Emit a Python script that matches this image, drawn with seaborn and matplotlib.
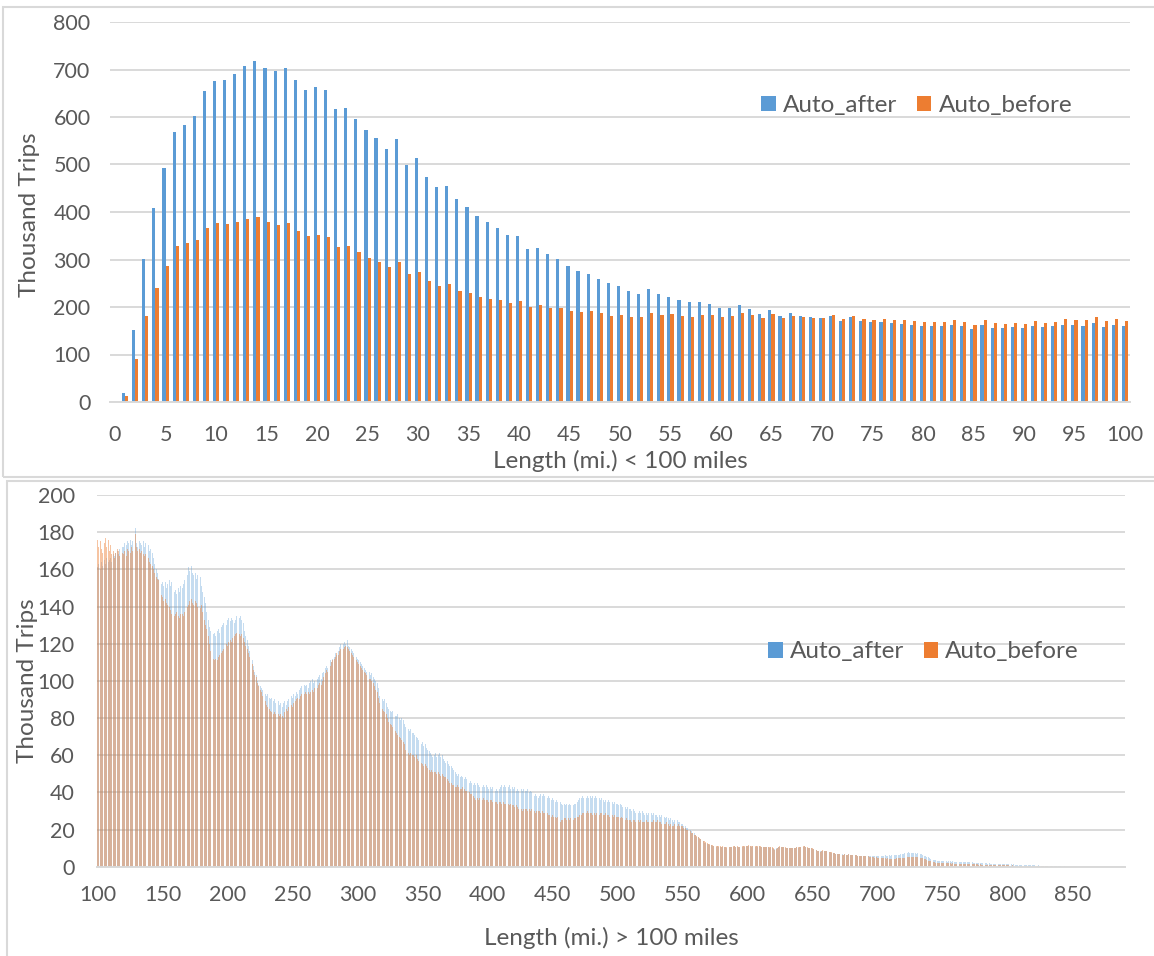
import numpy as np
import pandas as pd
import matplotlib
matplotlib.use("Agg")
import matplotlib.pyplot as plt
from matplotlib.patches import Patch, Rectangle
import seaborn as sns

# ---------------- data: trips under 100 miles (thousand trips) ----------------
short_len = list(range(1, 101))
short_after = [
    19, 151, 302, 408, 492, 569, 583, 602, 654, 675,
    678, 691, 708, 718, 704, 696, 703, 678, 657, 664,
    657, 616, 620, 596, 573, 556, 532, 553, 499, 513,
    473, 452, 454, 427, 411, 392, 380, 366, 352, 349,
    322, 324, 312, 302, 286, 275, 270, 260, 250, 245,
    234, 227, 237, 227, 221, 215, 211, 211, 206, 197,
    197, 204, 196, 185, 194, 182, 187, 181, 179, 177,
    181, 171, 178, 170, 168, 168, 166, 164, 162, 161,
    160, 160, 163, 159, 154, 163, 156, 156, 158, 156,
    161, 158, 159, 163, 162, 161, 167, 158, 163, 160,
]
short_before = [
    12, 91, 181, 240, 286, 328, 334, 341, 367, 376,
    375, 379, 385, 389, 379, 372, 376, 360, 349, 351,
    348, 327, 328, 315, 304, 295, 284, 294, 269, 274,
    255, 245, 248, 234, 229, 222, 217, 214, 208, 212,
    200, 204, 198, 198, 191, 189, 191, 187, 181, 184,
    180, 180, 188, 184, 186, 181, 180, 184, 184, 180,
    181, 188, 183, 177, 186, 176, 182, 178, 177, 177,
    183, 175, 182, 175, 173, 174, 173, 172, 171, 169,
    168, 169, 173, 168, 163, 173, 166, 165, 167, 165,
    171, 167, 169, 175, 173, 172, 179, 170, 175, 170,
]

# ---------------- data: trips over 100 miles, one value per mile 100..849 ----------------
long_after = [
    161, 163, 160, 164, 162, 165, 163, 166, 164, 165,
    166, 164, 168, 167, 169, 170, 168, 171, 170, 172,
    172, 174, 173, 175, 174, 176, 173, 175, 176, 182,
    174, 172, 175, 174, 173, 175, 172, 174, 171, 173,
    170, 171, 169, 166, 163, 160, 158, 155, 154, 152,
    153, 151, 153, 150, 152, 154, 151, 153, 150, 148,
    149, 147, 150, 148, 151, 150, 152, 154, 153, 157,
    161, 159, 162, 158, 157, 158, 155, 157, 154, 156,
    151, 148, 145, 142, 137, 133, 129, 127, 126, 125,
    126, 124, 127, 128, 126, 129, 130, 131, 132, 130,
    133, 134, 132, 134, 133, 131, 133, 135, 132, 134,
    135, 133, 131, 127, 124, 122, 119, 116, 114, 111,
    108, 105, 103, 100, 98, 97, 96, 95, 94, 93,
    92, 93, 91, 90, 91, 89, 90, 88, 90, 89,
    87, 88, 86, 88, 89, 87, 89, 90, 91, 92,
    91, 93, 92, 94, 93, 95, 96, 97, 95, 98,
    97, 98, 96, 99, 100, 101, 99, 100, 98, 101,
    102, 103, 101, 104, 105, 107, 108, 107, 109, 111,
    110, 112, 113, 115, 114, 116, 118, 120, 121, 120,
    121, 120, 122, 119, 118, 117, 116, 115, 114, 113,
    112, 111, 110, 109, 108, 107, 106, 105, 104, 105,
    103, 104, 102, 101, 100, 99, 96, 92, 91, 90,
    89, 90, 88, 86, 85, 84, 83, 84, 82, 81,
    81, 82, 80, 79, 80, 79, 77, 75, 76, 74,
    73, 74, 72, 72, 71, 70, 69, 68, 67, 66,
    67, 65, 66, 64, 63, 62, 61, 60, 59, 60,
    61, 59, 60, 61, 59, 60, 58, 57, 56, 57,
    55, 54, 54, 53, 52, 51, 50, 49, 50, 48,
    49, 48, 47, 48, 47, 46, 45, 46, 45, 44,
    45, 44, 45, 44, 43, 44, 43, 44, 43, 44,
    43, 42, 43, 42, 43, 42, 41, 42, 41, 42,
    43, 44, 43, 44, 43, 44, 43, 44, 42, 43,
    42, 43, 41, 42, 41, 42, 42, 41, 42, 41,
    41, 42, 40, 41, 40, 39, 38, 39, 38, 37,
    38, 39, 38, 39, 38, 39, 37, 38, 37, 36,
    37, 36, 35, 36, 35, 34, 35, 34, 33, 34,
    33, 34, 33, 34, 33, 34, 33, 34, 34, 35,
    36, 37, 37, 38, 37, 38, 37, 38, 37, 38,
    37, 38, 37, 38, 37, 36, 37, 36, 37, 36,
    35, 36, 35, 36, 35, 34, 35, 34, 35, 34,
    34, 33, 34, 33, 32, 33, 32, 31, 32, 31,
    31, 30, 31, 30, 29, 30, 29, 30, 29, 30,
    29, 28, 29, 28, 29, 28, 29, 28, 29, 28,
    28, 27, 28, 27, 28, 27, 27, 26, 27, 26,
    25, 26, 25, 24, 25, 24, 25, 24, 24, 23,
    23, 22, 22, 21, 21, 20, 20, 19, 18, 18,
    17, 16, 16, 15, 15, 14, 14, 13, 13, 12,
    12.3, 11.9, 11.6, 11.4, 11.2, 11.0, 10.8, 10.9, 10.6, 10.7,
    10.5, 10.8, 10.4, 10.6, 10.3, 10.5, 10.4, 10.7, 10.6, 10.8,
    10.9, 10.6, 10.8, 10.5, 10.4, 10.7, 10.8, 10.9, 10.7, 11.0,
    11.2, 10.9, 11.1, 10.8, 11.0, 10.9, 10.7, 11.0, 10.8, 10.9,
    10.8, 10.6, 10.5, 10.7, 10.4, 10.6, 10.5, 10.3, 10.4, 10.2,
    9.6, 9.3, 9.8, 10.2, 10.5, 10.8, 10.6, 10.4, 10.5, 10.3,
    10.1, 10.0, 9.9, 10.1, 9.8, 9.9, 10.0, 10.2, 10.4, 10.3,
    10.5, 10.6, 10.8, 10.7, 10.9, 10.5, 10.2, 10.0, 9.9, 9.8,
    9.6, 9.5, 9.3, 9.0, 8.6, 8.4, 8.2, 8.5, 8.7, 8.6,
    8.4, 8.3, 8.1, 8.0, 7.8, 7.6, 7.4, 7.3, 7.1, 7.0,
    6.9, 6.8, 6.7, 6.6, 6.5, 6.6, 6.4, 6.5, 6.6, 6.4,
    6.5, 6.3, 6.4, 6.5, 6.2, 6.0, 5.9, 6.0, 5.8, 5.9,
    5.8, 5.9, 5.7, 5.8, 5.6, 5.7, 5.8, 5.9, 5.7, 5.8,
    5.6, 5.7, 5.8, 5.9, 6.0, 5.9, 6.1, 6.0, 5.9, 6.1,
    6.0, 6.2, 6.1, 6.3, 6.2, 6.4, 6.5, 6.4, 6.6, 6.7,
    6.9, 7.2, 7.5, 7.3, 7.9, 7.6, 7.4, 7.2, 7.5, 7.3,
    7.1, 7.3, 7.0, 6.8, 6.6, 6.3, 5.9, 5.6, 5.4, 5.0,
    4.6, 4.3, 4.0, 3.8, 3.6, 3.5, 3.3, 3.2, 3.1, 3.0,
    2.9, 3.0, 2.8, 2.9, 2.7, 2.8, 2.9, 2.7, 2.8, 2.6,
    2.7, 2.6, 2.5, 2.6, 2.4, 2.5, 2.6, 2.4, 2.5, 2.3,
    2.4, 2.3, 2.2, 2.3, 2.2, 2.1, 2.2, 2.0, 2.1, 2.0,
    1.9, 2.0, 1.8, 1.9, 1.8, 1.7, 1.8, 1.7, 1.6, 1.7,
    1.6, 1.5, 1.6, 1.5, 1.4, 1.5, 1.4, 1.3, 1.4, 1.3,
    1.3, 1.2, 1.3, 1.2, 1.1, 1.2, 1.1, 1.1, 1.0, 1.1,
    1.0, 0.9, 1.0, 0.9, 0.9, 0.8, 0.9, 0.8, 0.8, 0.7,
    0.8, 0.7, 0.7, 0.6, 0.7, 0.6, 0.6, 0.5, 0.5, 0.5,
    0.4, 0.4, 0.4, 0.3, 0.4, 0.3, 0.3, 0.2, 0.3, 0.2,
    0.2, 0.2, 0.2, 0.1, 0.2, 0.1, 0.1, 0.1, 0.1, 0.1,
]
long_before = [
    176, 172, 175, 171, 169, 174, 177, 172, 176, 170,
    173, 168, 170, 166, 169, 171, 170, 167, 168, 169,
    168, 170, 167, 171, 170, 169, 172, 170, 175, 179,
    172, 170, 171, 169, 170, 168, 167, 168, 165, 166,
    164, 163, 162, 160, 158, 156, 155, 154, 150, 146,
    145, 143, 144, 142, 141, 140, 138, 136, 134, 135,
    136, 137, 135, 134, 136, 136, 135, 137, 138, 140,
    141, 143, 144, 142, 141, 143, 142, 140, 141, 139,
    141, 137, 133, 130, 128, 124, 120, 116, 113, 112,
    111, 112, 111, 113, 114, 115, 116, 117, 119, 120,
    119, 121, 122, 121, 123, 124, 125, 126, 124, 125,
    124, 125, 123, 121, 119, 117, 115, 113, 111, 109,
    106, 103, 102, 99, 97, 95, 94, 92, 90, 89,
    87, 86, 85, 84, 83, 82, 83, 82, 81, 82,
    81, 82, 81, 80, 83, 85, 84, 86, 85, 87,
    86, 88, 89, 90, 91, 90, 92, 93, 94, 93,
    94, 93, 94, 93, 94, 95, 94, 96, 97, 96,
    98, 99, 98, 100, 102, 104, 106, 105, 107, 108,
    110, 111, 112, 113, 115, 114, 116, 117, 118, 117,
    118, 119, 118, 117, 116, 115, 114, 113, 112, 111,
    110, 109, 108, 107, 106, 105, 104, 103, 102, 101,
    101, 100, 99, 97, 95, 94, 91, 88, 86, 85,
    84, 83, 82, 80, 78, 77, 76, 75, 74, 73,
    72, 71, 70, 69, 68, 67, 66, 63, 61, 61,
    60, 61, 60, 60, 59, 60, 58, 57, 57, 56,
    55, 54, 55, 54, 53, 52, 51, 52, 51, 51,
    51, 50, 51, 50, 49, 50, 49, 48, 48, 47,
    46, 45, 45, 44, 44, 43, 43, 44, 43, 42,
    42, 43, 42, 41, 41, 40, 40, 39, 39, 38,
    37, 36, 37, 36, 37, 37, 36, 37, 36, 36,
    36, 35, 36, 36, 35, 36, 35, 35, 34, 35,
    35, 34, 35, 34, 34, 33, 34, 33, 34, 33,
    33, 32, 33, 32, 31, 32, 31, 30, 31, 31,
    31, 30, 31, 30, 31, 30, 30, 29, 30, 30,
    30, 29, 30, 29, 29, 28, 29, 28, 28, 27,
    28, 27, 27, 26, 27, 25, 24, 25, 25, 26,
    26, 25, 26, 25, 26, 26, 25, 26, 26, 27,
    27, 28, 28, 29, 29, 30, 29, 30, 29, 29,
    29, 28, 29, 28, 29, 29, 28, 29, 29, 28,
    28, 29, 28, 28, 27, 28, 28, 27, 28, 27,
    27, 27, 26, 27, 26, 26, 25, 26, 25, 25,
    25, 24, 25, 25, 24, 25, 25, 24, 25, 24,
    24, 24, 25, 24, 24, 25, 24, 24, 25, 24,
    24, 25, 24, 24, 23, 24, 23, 23, 24, 23,
    22, 23, 22, 22, 23, 22, 22, 23, 22, 22,
    22, 21, 21, 20, 20, 19, 19, 18, 18, 17,
    17, 16.5, 16, 15.5, 15, 14.5, 14, 13.6, 13.2, 12.8,
    12.3, 12.0, 11.8, 11.5, 11.3, 11.2, 11.0, 11.1, 10.9, 11.0,
    10.8, 10.9, 10.6, 10.8, 10.5, 10.7, 10.6, 10.8, 10.7, 11.0,
    11.0, 10.8, 10.9, 10.7, 10.6, 10.8, 11.0, 11.1, 10.9, 11.2,
    11.3, 11.5, 11.4, 11.1, 11.2, 11.0, 10.9, 11.1, 11.0, 11.0,
    10.9, 10.8, 10.6, 10.8, 10.5, 10.7, 10.6, 10.5, 10.6, 10.4,
    9.8, 9.2, 9.7, 10.3, 10.7, 11.0, 10.8, 10.6, 10.7, 10.5,
    10.3, 10.2, 10.0, 10.2, 9.9, 10.0, 10.1, 10.3, 10.5, 10.4,
    10.6, 10.8, 11.0, 10.9, 11.1, 10.7, 10.4, 10.1, 10.0, 9.9,
    9.8, 9.7, 9.4, 9.0, 8.6, 8.3, 8.1, 8.6, 8.8, 8.7,
    8.5, 8.4, 8.3, 8.1, 7.9, 7.7, 7.5, 7.4, 7.1, 7.0,
    6.9, 6.8, 6.7, 6.5, 6.5, 6.6, 6.4, 6.5, 6.6, 6.4,
    6.5, 6.3, 6.4, 6.5, 6.2, 6.0, 5.9, 6.0, 5.8, 5.8,
    5.7, 5.6, 5.7, 5.5, 5.3, 5.2, 5.1, 5.0, 4.9, 5.0,
    4.8, 4.9, 4.8, 4.7, 4.6, 4.7, 4.5, 4.4, 4.5, 4.3,
    4.4, 4.3, 4.2, 4.3, 4.4, 4.5, 4.6, 4.5, 4.7, 4.8,
    4.7, 4.8, 4.9, 5.0, 5.1, 5.2, 5.3, 5.4, 5.3, 5.2,
    5.1, 5.0, 4.9, 4.8, 4.7, 4.6, 4.3, 4.0, 3.6, 3.3,
    3.0, 2.8, 2.6, 2.5, 2.3, 2.2, 2.1, 2.1, 2.0, 2.0,
    1.9, 2.0, 1.9, 1.8, 1.9, 1.8, 1.8, 1.7, 1.8, 1.7,
    1.7, 1.6, 1.6, 1.5, 1.6, 1.5, 1.4, 1.5, 1.4, 1.4,
    1.3, 1.4, 1.3, 1.3, 1.2, 1.3, 1.2, 1.2, 1.1, 1.2,
    1.1, 1.1, 1.0, 1.1, 1.0, 1.0, 1.0, 0.9, 1.0, 0.9,
    0.9, 0.9, 0.8, 0.9, 0.8, 0.8, 0.8, 0.7, 0.8, 0.7,
    0.7, 0.7, 0.7, 0.6, 0.7, 0.6, 0.6, 0.6, 0.6, 0.5,
    0.6, 0.5, 0.5, 0.5, 0.5, 0.4, 0.5, 0.4, 0.4, 0.4,
    0.4, 0.4, 0.3, 0.4, 0.3, 0.3, 0.3, 0.2, 0.3, 0.2,
    0.2, 0.2, 0.2, 0.1, 0.2, 0.1, 0.1, 0.1, 0.1, 0.1,
    0.1, 0.1, 0.1, 0.0, 0.1, 0.0, 0.1, 0.0, 0.0, 0.0,
]
long_len = list(range(100, 100 + len(long_after)))
assert len(long_after) == len(long_before) == 750

series_names = ["Auto_after", "Auto_before"]
short_ticks = list(range(0, 101, 5))
long_ticks = list(range(100, 851, 50))

BLUE = "#5B9BD5"
ORANGE = "#ED7D31"
TEXT = "#595959"
GRID = "#D9D9D9"

sns.set_theme(style="white")
plt.rcParams["font.family"] = ["Lato", "DejaVu Sans"]

TICK_FS = 15.5
TITLE_FS = 17.5
LEGEND_FS = 17.5

W, H = 1154, 956
fig = plt.figure(figsize=(W / 100, H / 100), dpi=100)

# chart frames
fig.add_artist(Rectangle((3 / W, 1 - 477 / H), 1.2, 470 / H, transform=fig.transFigure,
                         fill=False, edgecolor=GRID, lw=1.5))
fig.add_artist(Rectangle((7 / W, -0.1), 1.2, 1 - 481 / H + 0.1, transform=fig.transFigure,
                         fill=False, edgecolor=GRID, lw=1.5))

ax1 = fig.add_axes([110 / W, 1 - 402 / H, 1020 / W, 380 / H])
ax2 = fig.add_axes([97 / W, 1 - 866.7 / H, 1028 / W, 371.7 / H])

# ---------- upper chart: clustered columns ----------
short_df = pd.DataFrame({
    "length": short_len * 2,
    "trips": short_after + short_before,
    "series": [series_names[0]] * len(short_len) + [series_names[1]] * len(short_len),
})
sns.barplot(data=short_df, x="length", y="trips", hue="series", hue_order=series_names,
            palette=[BLUE, ORANGE], native_scale=True, width=0.62, dodge=True,
            errorbar=None, saturation=1, linewidth=0, legend=False, ax=ax1)
ax1.set_xlim(-0.5, 100.5)
ax1.set_ylim(0, 800)
ax1.set_xticks(short_ticks)
ax1.set_xticklabels([str(t) for t in short_ticks])
ax1.set_yticks(range(0, 801, 100))

# ---------- lower chart: overlapping translucent columns ----------
sns.barplot(x=long_len, y=long_after, color=BLUE, alpha=0.35, native_scale=True, width=0.7,
            errorbar=None, saturation=1, linewidth=0, ax=ax2)
sns.barplot(x=long_len, y=long_before, color=ORANGE, alpha=0.45, native_scale=True, width=0.7,
            errorbar=None, saturation=1, linewidth=0, ax=ax2)
ax2.set_xlim(99.5, 890.5)
ax2.set_ylim(0, 200)
ax2.set_xticks(long_ticks)
ax2.set_xticklabels([str(t) for t in long_ticks])
ax2.set_yticks(range(0, 201, 20))

for ax, ypad, xpad in ((ax1, 14, 16.5), (ax2, 16, 13.5)):
    ax.set_xlabel("")
    ax.set_ylabel("")
    ax.set_axisbelow(True)
    ax.yaxis.grid(True, color=GRID, lw=1.4)
    ax.xaxis.grid(False)
    for side in ("top", "right", "left"):
        ax.spines[side].set_visible(False)
    ax.spines["bottom"].set_color(GRID)
    ax.spines["bottom"].set_linewidth(1.4)
    ax.tick_params(axis="y", length=0, labelsize=TICK_FS, labelcolor=TEXT, pad=ypad)
    ax.tick_params(axis="x", length=0, labelsize=TICK_FS, labelcolor=TEXT, pad=xpad)

handles = [Patch(facecolor=BLUE, edgecolor="none"), Patch(facecolor=ORANGE, edgecolor="none")]
for ax, anchor in ((ax1, (0.791, 0.78)), (ax2, (0.804, 0.578))):
    ax.legend(handles, series_names, loc="center", bbox_to_anchor=anchor, ncol=2,
              frameon=False, fontsize=LEGEND_FS, labelcolor=TEXT, handlelength=0.6,
              handleheight=0.6, handletextpad=0.3, columnspacing=0.8)

# axis titles
fig.text(30 / W, 1 - 215 / H, "Thousand Trips", rotation=90, ha="center", va="center",
         fontsize=TITLE_FS, color=TEXT)
fig.text(620 / W, 1 - 461 / H, "Length (mi.) < 100 miles", ha="center", va="center",
         fontsize=TITLE_FS, color=TEXT)
fig.text(28 / W, 1 - 681 / H, "Thousand Trips", rotation=90, ha="center", va="center",
         fontsize=TITLE_FS, color=TEXT)
fig.text(611 / W, 1 - 938 / H, "Length (mi.) > 100 miles", ha="center", va="center",
         fontsize=TITLE_FS, color=TEXT)

fig.savefig("out.png", dpi=100)
